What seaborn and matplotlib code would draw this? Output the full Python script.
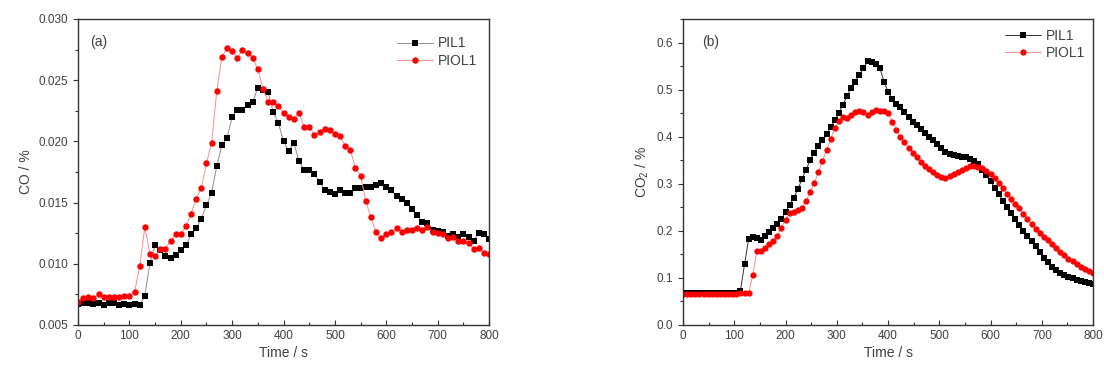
import numpy as np
import pandas as pd
import matplotlib
matplotlib.use("Agg")
import matplotlib.pyplot as plt
from matplotlib.ticker import MultipleLocator, FormatStrFormatter
import seaborn as sns

# ── Data ──────────────────────────────────────────────────────────────────────
# (a) CO, sampled every 10 s
time_a = np.arange(0, 801, 10)
co_pil1 = [
    0.0067, 0.0068, 0.0068, 0.0067, 0.0068, 0.0066, 0.0068, 0.0068, 0.0066, 0.0067,
    0.0066, 0.0067, 0.0066, 0.0074, 0.0101, 0.0115, 0.0111, 0.0106, 0.0105, 0.0107,
    0.0111, 0.0115, 0.0124, 0.0129, 0.0137, 0.0148, 0.0158, 0.0180, 0.0197, 0.0203,
    0.0220, 0.0226, 0.0226, 0.0230, 0.0232, 0.0244, 0.0242, 0.0240, 0.0224, 0.0215,
    0.0200, 0.0192, 0.0199, 0.0184, 0.0177, 0.0177, 0.0173, 0.0167, 0.0160, 0.0159,
    0.0157, 0.0160, 0.0158, 0.0158, 0.0162, 0.0162, 0.0163, 0.0163, 0.0164, 0.0166,
    0.0163, 0.0160, 0.0155, 0.0153, 0.0150, 0.0145, 0.0140, 0.0134, 0.0133, 0.0128,
    0.0127, 0.0126, 0.0123, 0.0124, 0.0122, 0.0124, 0.0122, 0.0119, 0.0125, 0.0124,
    0.0120,
]
co_piol1 = [
    0.0069, 0.0072, 0.0073, 0.0072, 0.0075, 0.0073, 0.0073, 0.0073, 0.0073, 0.0074,
    0.0074, 0.0077, 0.0098, 0.0130, 0.0108, 0.0106, 0.0112, 0.0112, 0.0119, 0.0124,
    0.0124, 0.0131, 0.0141, 0.0153, 0.0162, 0.0182, 0.0199, 0.0241, 0.0269, 0.0276,
    0.0274, 0.0268, 0.0275, 0.0272, 0.0268, 0.0259, 0.0243, 0.0232, 0.0232, 0.0229,
    0.0223, 0.0220, 0.0218, 0.0223, 0.0212, 0.0212, 0.0205, 0.0208, 0.0210, 0.0209,
    0.0206, 0.0204, 0.0196, 0.0193, 0.0178, 0.0172, 0.0151, 0.0138, 0.0126, 0.0121,
    0.0124, 0.0126, 0.0129, 0.0126, 0.0128, 0.0128, 0.0129, 0.0128, 0.0130, 0.0126,
    0.0125, 0.0124, 0.0121, 0.0122, 0.0119, 0.0119, 0.0117, 0.0112, 0.0113, 0.0109,
    0.0108,
]

# (b) CO2, sampled every 8 s
time_b = np.arange(0, 801, 8)
co2_pil1 = [
    0.067, 0.067, 0.067, 0.067, 0.067, 0.067, 0.067, 0.067, 0.067, 0.067,
    0.067, 0.067, 0.068, 0.068, 0.073, 0.129, 0.183, 0.187, 0.185, 0.181,
    0.190, 0.198, 0.206, 0.215, 0.225, 0.240, 0.255, 0.270, 0.288, 0.310,
    0.330, 0.350, 0.366, 0.381, 0.392, 0.405, 0.420, 0.435, 0.450, 0.468,
    0.487, 0.504, 0.517, 0.531, 0.545, 0.560, 0.558, 0.554, 0.546, 0.517,
    0.495, 0.481, 0.470, 0.463, 0.452, 0.441, 0.432, 0.425, 0.417, 0.408,
    0.400, 0.393, 0.385, 0.375, 0.368, 0.364, 0.361, 0.359, 0.357, 0.356,
    0.353, 0.348, 0.341, 0.330, 0.318, 0.305, 0.292, 0.278, 0.264, 0.250,
    0.238, 0.226, 0.212, 0.200, 0.190, 0.179, 0.167, 0.155, 0.143, 0.133,
    0.124, 0.117, 0.111, 0.106, 0.102, 0.099, 0.096, 0.093, 0.091, 0.089,
    0.087,
]
co2_piol1 = [
    0.066, 0.066, 0.066, 0.066, 0.066, 0.066, 0.066, 0.066, 0.066, 0.066,
    0.066, 0.066, 0.066, 0.066, 0.067, 0.067, 0.067, 0.106, 0.157, 0.158,
    0.163, 0.171, 0.178, 0.190, 0.205, 0.224, 0.237, 0.239, 0.244, 0.249,
    0.263, 0.282, 0.301, 0.324, 0.348, 0.372, 0.395, 0.418, 0.433, 0.442,
    0.440, 0.445, 0.452, 0.454, 0.452, 0.446, 0.452, 0.456, 0.455, 0.454,
    0.450, 0.432, 0.415, 0.400, 0.388, 0.377, 0.366, 0.356, 0.346, 0.338,
    0.331, 0.325, 0.318, 0.314, 0.313, 0.316, 0.320, 0.325, 0.330, 0.334,
    0.337, 0.338, 0.336, 0.333, 0.328, 0.321, 0.312, 0.302, 0.290, 0.279,
    0.268, 0.258, 0.248, 0.236, 0.225, 0.214, 0.204, 0.195, 0.187, 0.180,
    0.172, 0.164, 0.156, 0.148, 0.141, 0.135, 0.129, 0.124, 0.119, 0.114,
    0.110,
]

series_names = ["PIL1", "PIOL1"]
marker_colors = {"PIL1": "black", "PIOL1": "#ff0000"}
series_markers = {"PIL1": "s", "PIOL1": "o"}

# ── Style ─────────────────────────────────────────────────────────────────────
sns.set_style("ticks")
plt.rcParams["font.family"] = ["Liberation Sans", "DejaVu Sans"]
plt.rcParams["mathtext.default"] = "regular"
TEXT = "#404040"


def draw_panel(ax, t, a, b, msize, line_colors, ylabel, ylim, ymaj, ymin, tag,
               tag_x, leg_anchor):
    df = pd.DataFrame({
        "t": np.concatenate([t, t]),
        "v": np.concatenate([a, b]),
        "s": [series_names[0]] * len(t) + [series_names[1]] * len(t),
    })
    for name in series_names:
        sub = df[df["s"] == name]
        sns.lineplot(
            data=sub, x="t", y="v", ax=ax, label=name,
            color=marker_colors[name], marker=series_markers[name],
            markersize=msize[name], markeredgewidth=0, linewidth=0.7,
        )
        # lighter connecting line, solid markers (Origin look)
        ln = ax.lines[-1]
        ln.set_color(line_colors[name])
        ln.set_markerfacecolor(marker_colors[name])
        ln.set_markeredgecolor(marker_colors[name])

    ax.set_xlim(0, 800)
    ax.set_ylim(*ylim)
    ax.xaxis.set_major_locator(MultipleLocator(100))
    ax.xaxis.set_minor_locator(MultipleLocator(50))
    ax.yaxis.set_major_locator(MultipleLocator(ymaj))
    ax.yaxis.set_minor_locator(MultipleLocator(ymin))
    ax.tick_params(axis="x", which="both", direction="in", labelsize=8.5,
                   colors="#333333", labelcolor=TEXT)
    ax.tick_params(axis="y", which="both", direction="out", labelsize=8.5,
                   colors="#333333", labelcolor=TEXT)
    ax.tick_params(which="major", length=3.5, width=0.8)
    ax.tick_params(which="minor", length=2, width=0.8)
    for sp in ax.spines.values():
        sp.set_visible(True)
        sp.set_color("#333333")
        sp.set_linewidth(1.0)
    ax.set_xlabel("Time / s", fontsize=10, color=TEXT, labelpad=3)
    ax.set_ylabel(ylabel, fontsize=10, color=TEXT, labelpad=4)
    ax.text(tag_x, 0.925, tag, transform=ax.transAxes, fontsize=10, color=TEXT,
            va="center", ha="left")
    leg = ax.legend(loc="upper right", bbox_to_anchor=leg_anchor, frameon=False,
                    fontsize=10, handlelength=2.6, handletextpad=0.3,
                    labelspacing=0.25, borderaxespad=0.2)
    for txt in leg.get_texts():
        txt.set_color(TEXT)


fig = plt.figure(figsize=(11.04, 3.73), dpi=100)
ax_a = fig.add_axes([0.0707, 0.1287, 0.3723, 0.8204])
ax_b = fig.add_axes([0.6187, 0.1287, 0.3714, 0.8204])

draw_panel(ax_a, time_a, co_pil1, co_piol1,
           {"PIL1": 4.0, "PIOL1": 4.6}, {"PIL1": "#8c8c8c", "PIOL1": "#ff8a8a"},
           "CO / %", (0.005, 0.030), 0.005, 0.0025, "(a)", 0.03, (0.99, 0.97))
draw_panel(ax_b, time_b, co2_pil1, co2_piol1,
           {"PIL1": 3.9, "PIOL1": 4.5}, {"PIL1": "#333333", "PIOL1": "#ff8a8a"},
           "CO$_2$ / %", (0.0, 0.65), 0.1, 0.05, "(b)", 0.046, (1.0, 0.995))
ax_a.yaxis.set_major_formatter(FormatStrFormatter("%.3f"))
ax_b.yaxis.set_major_formatter(FormatStrFormatter("%.1f"))

fig.savefig("out.png", dpi=100)
plt.close(fig)
